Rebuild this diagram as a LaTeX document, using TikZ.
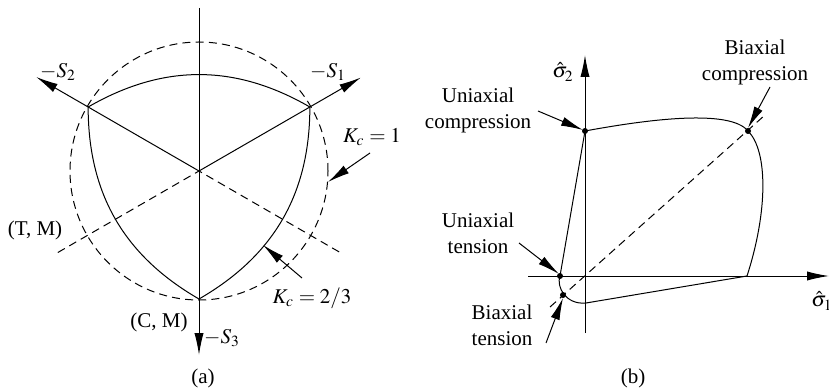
\documentclass[tikz,border=0pt]{standalone}
\usepackage{amsmath}
\usepackage{mathptmx}
\usepackage{fontspec}
\setmainfont{Liberation Serif}
\usetikzlibrary{calc, arrows.meta}

\begin{document}
\begin{tikzpicture}[x=0.5pt, y=0.5pt, line width=0.5pt,
  font=\fontsize{10.5}{13}\selectfont,
  tip/.style={-{Latex[length=11pt,width=4.6pt]}},
  dsh/.style={dash pattern=on 4pt off 2.6pt},
  dot/.style={circle, fill, inner sep=0pt, minimum size=3pt}]
  \useasboundingbox (0,0) rectangle (829,391);
  % (a)
  \begin{scope}[shift={(199,220)}]
    \coordinate (O) at (0,0);
    \coordinate (S1) at (30:128);
    \coordinate (S2) at (150:128);
    \coordinate (S3) at (270:128);
    \coordinate (A1) at (30:187);
    \coordinate (A2) at (150:188);
    \coordinate (A3) at (270:184);
    \coordinate (A4) at (90:163);
    \coordinate (D1) at (210:163);
    \coordinate (D2) at (330:162);
    \draw[dsh] (O) circle (129);
    \draw[dsh] (D1) -- (O) -- (D2);
    \draw (A4) -- (O);
    \draw[tip] (O) -- (A1);
    \draw[tip] (O) -- (A2);
    \draw[tip] (O) -- (A3);
    \draw (S2) to[bend left=30] (S1) to[bend left=30] (S3) to[bend left=30] (S2);
  \end{scope}
  \coordinate (K1a) at (370,238);
  \coordinate (K1b) at (328,209);
  \coordinate (K2a) at (302,113);
  \coordinate (K2b) at (263,146);
  \draw[tip] (K1a) -- (K1b);
  \draw[tip] (K2a) -- (K2b);
  \node (lS1) at (328,319) {$-S_1$};
  \node (lS2) at (58,319) {$-S_2$};
  \node (lS3) at (222,53) {$-S_3$};
  \node (lTM) at (35,161) {(T, M)};
  \node (lCM) at (159,69) {(C, M)};
  \node (lK1) at (372,254) {$K_c = 1$};
  \node (lK2) at (312,93) {$K_c = 2/3$};
  \node (la) at (203,13) {(a)};
  % (b)
  \coordinate (O2) at (585,115);
  \coordinate (X0) at (528,115);
  \coordinate (X1) at (829,115);
  \coordinate (Y0) at (585,336);
  \coordinate (Y1) at (585,58);
  \coordinate (UC) at (585,260);
  \coordinate (BC) at (748,260);
  \coordinate (UT) at (560,115);
  \coordinate (BT) at (563,96);
  \coordinate (XP) at (747,115);
  \coordinate (BM) at (586,88);
  \coordinate (E0) at (550,84);
  \coordinate (E1) at (765,276);
  \draw[tip] (X0) -- (X1);
  \draw[tip] (Y1) -- (Y0);
  \draw[dsh] (E0) -- (E1);
  \draw (UC) .. controls (650,272) and (730,282) .. (BC)
    .. controls (768,240) and (768,180) .. (XP) -- (BM)
    .. controls (566,86) and (556,104) .. (UT) -- cycle;
  \foreach \p in {UC, BC, UT, BT} \node[dot] at (\p) {};
  \coordinate (T1) at (538,280);
  \coordinate (T2) at (770,304);
  \coordinate (T3) at (519,148);
  \coordinate (T4) at (546,48);
  \coordinate (H1) at (583,261);
  \coordinate (H2) at (748,263);
  \coordinate (H3) at (559,117);
  \coordinate (H4) at (563,93);
  \draw[tip] (T1) -- (H1);
  \draw[tip] (T2) -- (H2);
  \draw[tip] (T3) -- (H3);
  \draw[tip] (T4) -- (H4);
  \node (ls2) at (563,319) {$\hat{\sigma}_2$};
  \node (ls1) at (822,90) {$\hat{\sigma}_1$};
  \node[align=center] (lUC) at (478,281) {Uniaxial\\compression};
  \node[align=center] (lBC) at (755,329) {Biaxial\\compression};
  \node[align=center] (lUT) at (478,158) {Uniaxial\\tension};
  \node[align=center] (lBT) at (502,66) {Biaxial\\tension};
  \node (lb) at (633,13) {(b)};
\end{tikzpicture}
\end{document}
